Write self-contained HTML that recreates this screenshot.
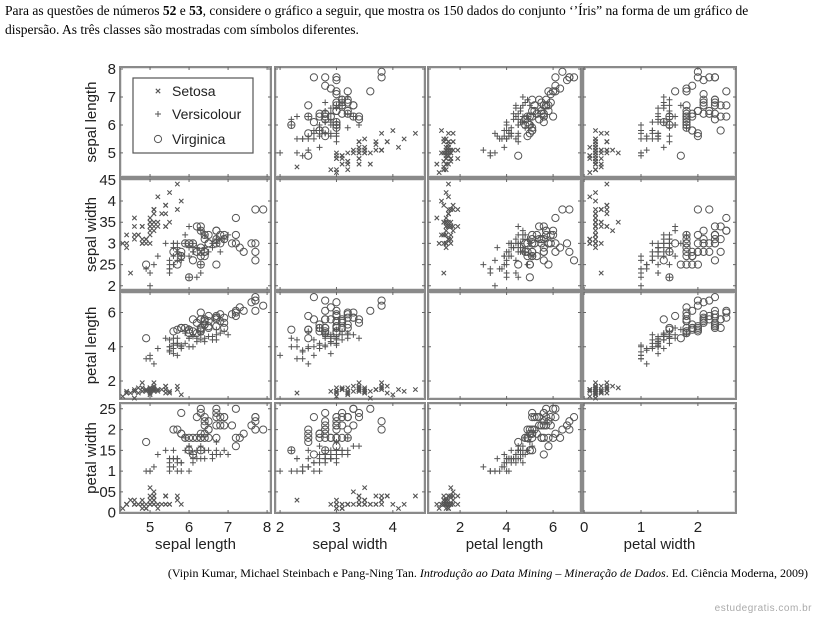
<!DOCTYPE html>
<html><head><meta charset="utf-8">
<style>
body{margin:0;background:#fff;width:816px;height:621px;overflow:hidden;position:relative;font-family:"Liberation Serif",serif}
.hdr{position:absolute;left:5px;top:1px;font-size:13.5px;line-height:19px;color:#000;width:800px}
.src{position:absolute;right:8px;top:566px;font-size:12px;color:#000}
.wm{position:absolute;right:4px;top:603px;font-size:10px;color:#aaa;font-family:"Liberation Sans",sans-serif;letter-spacing:0.5px}
svg{position:absolute;left:0;top:0}
</style></head><body>
<div class="hdr">Para as questões de números <b>52</b> e <b>53</b>, considere o gráfico a seguir, que mostra os 150 dados do conjunto ‘’Íris” na forma de um gráfico de dispersão. As três classes são mostradas com símbolos diferentes.</div>
<div class="src">(Vipin Kumar, Michael Steinbach e Pang-Ning Tan. <i>Introdução ao Data Mining – Mineração de Dados</i>. Ed. Ciência Moderna, 2009)</div>
<div class="wm">estudegratis.com.br</div>
<svg id="chart" width="816" height="621"></svg>
<script>
const species=[].concat(Array(50).fill(0),Array(50).fill(1),Array(50).fill(2));
const sepalLength=[5.1,4.9,4.7,4.6,5.0,5.4,4.6,5.0,4.4,4.9,5.4,4.8,4.8,4.3,5.8,5.7,5.4,5.1,5.7,5.1,5.4,5.1,4.6,5.1,4.8,5.0,5.0,5.2,5.2,4.7,4.8,5.4,5.2,5.5,4.9,5.0,5.5,4.9,4.4,5.1,5.0,4.5,4.4,5.0,5.1,4.8,5.1,4.6,5.3,5.0,
7.0,6.4,6.9,5.5,6.5,5.7,6.3,4.9,6.6,5.2,5.0,5.9,6.0,6.1,5.6,6.7,5.6,5.8,6.2,5.6,5.9,6.1,6.3,6.1,6.4,6.6,6.8,6.7,6.0,5.7,5.5,5.5,5.8,6.0,5.4,6.0,6.7,6.3,5.6,5.5,5.5,6.1,5.8,5.0,5.6,5.7,5.7,6.2,5.1,5.7,
6.3,5.8,7.1,6.3,6.5,7.6,4.9,7.3,6.7,7.2,6.5,6.4,6.8,5.7,5.8,6.4,6.5,7.7,7.7,6.0,6.9,5.6,7.7,6.3,6.7,7.2,6.2,6.1,6.4,7.2,7.4,7.9,6.4,6.3,6.1,7.7,6.3,6.4,6.0,6.9,6.7,6.9,5.8,6.8,6.7,6.7,6.3,6.5,6.2,5.9];
const sepalWidth=[3.5,3.0,3.2,3.1,3.6,3.9,3.4,3.4,2.9,3.1,3.7,3.4,3.0,3.0,4.0,4.4,3.9,3.5,3.8,3.8,3.4,3.7,3.6,3.3,3.4,3.0,3.4,3.5,3.4,3.2,3.1,3.4,4.1,4.2,3.1,3.2,3.5,3.1,3.0,3.4,3.5,2.3,3.2,3.5,3.8,3.0,3.8,3.2,3.7,3.3,
3.2,3.2,3.1,2.3,2.8,2.8,3.3,2.4,2.9,2.7,2.0,3.0,2.2,2.9,2.9,3.1,3.0,2.7,2.2,2.5,3.2,2.8,2.5,2.8,2.9,3.0,2.8,3.0,2.9,2.6,2.4,2.4,2.7,2.7,3.0,3.4,3.1,2.3,3.0,2.5,2.6,3.0,2.6,2.3,2.7,3.0,2.9,2.9,2.5,2.8,
3.3,2.7,3.0,2.9,3.0,3.0,2.5,2.9,2.5,3.6,3.2,2.7,3.0,2.5,2.8,3.2,3.0,3.8,2.6,2.2,3.2,2.8,2.8,2.7,3.3,3.2,2.8,3.0,2.8,3.0,2.8,3.8,2.8,2.8,2.6,3.0,3.4,3.1,3.0,3.1,3.1,3.1,2.7,3.2,3.3,3.0,2.5,3.0,3.4,3.0];
const petalLength=[1.4,1.4,1.3,1.5,1.4,1.7,1.4,1.5,1.4,1.5,1.5,1.6,1.4,1.1,1.2,1.5,1.3,1.4,1.7,1.5,1.7,1.5,1.0,1.7,1.9,1.6,1.6,1.5,1.4,1.6,1.6,1.5,1.5,1.4,1.5,1.2,1.3,1.5,1.3,1.5,1.3,1.3,1.3,1.6,1.9,1.4,1.6,1.4,1.5,1.4,
4.7,4.5,4.9,4.0,4.6,4.5,4.7,3.3,4.6,3.9,3.5,4.2,4.0,4.7,3.6,4.4,4.5,4.1,4.5,3.9,4.8,4.0,4.9,4.7,4.3,4.4,4.8,5.0,4.5,3.5,3.8,3.7,3.9,5.1,4.5,4.5,4.7,4.4,4.1,4.0,4.4,4.6,4.0,3.3,4.2,4.2,4.2,4.3,3.0,4.1,
6.0,5.1,5.9,5.6,5.8,6.6,4.5,6.3,5.8,6.1,5.1,5.3,5.5,5.0,5.1,5.3,5.5,6.7,6.9,5.0,5.7,4.9,6.7,4.9,5.7,6.0,4.8,4.9,5.6,5.8,6.1,6.4,5.6,5.1,5.6,6.1,5.6,5.5,4.8,5.4,5.6,5.1,5.1,5.9,5.7,5.2,5.0,5.2,5.4,5.1];
const petalWidth=[0.2,0.2,0.2,0.2,0.2,0.4,0.3,0.2,0.2,0.1,0.2,0.2,0.1,0.1,0.2,0.4,0.4,0.3,0.3,0.3,0.2,0.4,0.2,0.5,0.2,0.2,0.4,0.2,0.2,0.2,0.2,0.4,0.1,0.2,0.1,0.2,0.2,0.1,0.2,0.2,0.3,0.3,0.2,0.6,0.4,0.3,0.2,0.2,0.2,0.2,
1.4,1.5,1.5,1.3,1.5,1.3,1.6,1.0,1.3,1.4,1.0,1.5,1.0,1.4,1.3,1.4,1.5,1.0,1.5,1.1,1.8,1.3,1.5,1.2,1.3,1.4,1.4,1.7,1.5,1.0,1.1,1.0,1.2,1.6,1.5,1.6,1.5,1.3,1.3,1.3,1.2,1.4,1.2,1.0,1.3,1.2,1.3,1.3,1.1,1.3,
2.5,1.9,2.1,1.8,2.2,2.1,1.7,1.8,1.8,2.5,2.0,1.9,2.1,2.0,2.4,2.3,1.8,2.2,2.3,1.5,2.3,2.0,2.0,1.8,2.1,1.8,1.8,1.8,2.1,1.6,1.9,2.0,2.2,1.5,1.4,2.3,2.4,1.8,1.8,2.1,2.4,2.3,1.9,2.3,2.5,2.3,1.9,2.0,2.3,1.8];
const featureNames=["sepal length","sepal width","petal length","petal width"];
const xTicks=[[5,6,7,8],[2,3,4],[2,4,6],[0,1,2]];
const xTickLabels=[["5","6","7","8"],["2","3","4"],["2","4","6"],["0","1","2"]];
const yTicks=[[5,6,7,8],[2,2.5,3,3.5,4,4.5],[2,4,6],[0,0.5,1,1.5,2,2.5]];
const yTickLabels=[["5","6","7","8"],["2","25","3","35","4","45"],["2","4","6"],["0","05","1","15","2","25"]];
const classNames=["Setosa","Versicolour","Virginica"];

const data=[sepalLength,sepalWidth,petalLength,petalWidth];
const xDom=[[4.23,8.1],[1.91,4.57],[0.62,7.2],[-0.02,2.67]];
const yDom=[[4.14,8.07],[1.9,4.52],[0.95,7.2],[-0.01,2.64]];
const colPx=[[120,271],[275,425],[428,581],[583,736]];
const rowPx=[[67,177],[179,290],[292,399],[403,513]];
const NS="http://www.w3.org/2000/svg";
const svg=document.getElementById('chart');
function mk(t,a,p){const e=document.createElementNS(NS,t);for(const k in a)e.setAttribute(k,a[k]);(p||svg).appendChild(e);return e;}
function xs(c,v){const d=xDom[c],p=colPx[c];return p[0]+(v-d[0])/(d[1]-d[0])*(p[1]-p[0]);}
function ys(r,v){const d=yDom[r],p=rowPx[r];return p[1]-(v-d[0])/(d[1]-d[0])*(p[1]-p[0]);}
const col="#555";
function marker(g,k,x,y){
  if(k===0){mk('path',{d:`M${x-2.2},${y-2.2}L${x+2.2},${y+2.2}M${x-2.2},${y+2.2}L${x+2.2},${y-2.2}`,stroke:col,'stroke-width':1.1,fill:'none'},g);}
  else if(k===1){mk('path',{d:`M${x-3},${y}L${x+3},${y}M${x},${y-3}L${x},${y+3}`,stroke:col,'stroke-width':1,fill:'none'},g);}
  else mk('circle',{cx:x,cy:y,r:3.6,stroke:col,'stroke-width':1,fill:'none'},g);
}
for(let r=0;r<4;r++)for(let c=0;c<4;c++){
  const g=mk('g',{});
  
  
  const x0=colPx[c][0],x1=colPx[c][1],y0=rowPx[r][0],y1=rowPx[r][1];
  mk('rect',{x:x0,y:y0,width:x1-x0,height:y1-y0,fill:'#fff',stroke:'#8a8a8a','stroke-width':2},g);
  mk('rect',{x:x0+1.5,y:y0+1.5,width:x1-x0-3,height:y1-y0-3,fill:'none',stroke:'#d0d0d0','stroke-width':0.6},g);
  let tp='';
  xTicks[c].forEach(t=>{const x=xs(c,t);if(x>x0+1&&x<x1-1)tp+=`M${x},${y1}v-3M${x},${y0}v3`;});
  yTicks[r].forEach(t=>{const y=ys(r,t);if(y>y0+1&&y<y1-1)tp+=`M${x0},${y}h3M${x1},${y}h-3`;});
  mk('path',{d:tp,stroke:'#666','stroke-width':1},g);
  if(r!==c){
    for(let i=0;i<150;i++){marker(g,species[i],xs(c,data[c][i]),ys(r,data[r][i]));}
  }
}
const lg=mk('g',{});


mk('rect',{x:133,y:78,width:120,height:75,fill:'none',stroke:'#555','stroke-width':1.2},lg);
const legY=[91,114,139];
classNames.forEach((n,k)=>{
  const e=mk('g',{},lg);
  
  
  marker(e,k,158,legY[k]);
  const t=mk('text',{x:172,y:legY[k]+5,'font-family':'Liberation Sans, sans-serif','font-size':14,fill:'#222'},e);
  t.textContent=n;
});
for(let r=0;r<4;r++){
  yTicks[r].forEach((t,i)=>{const tx=mk('text',{x:116,y:ys(r,t)+5,'text-anchor':'end','font-family':'Liberation Sans, sans-serif','font-size':15,fill:'#222'});
    
    
    tx.textContent=yTickLabels[r][i];});
  const cy=(rowPx[r][0]+rowPx[r][1])/2;
  const yt=mk('text',{x:0,y:0,transform:`translate(96,${cy}) rotate(-90)`,'text-anchor':'middle','font-family':'Liberation Sans, sans-serif','font-size':15,fill:'#222'});
  
  
  yt.textContent=featureNames[r];
}
for(let c=0;c<4;c++){
  xTicks[c].forEach((t,i)=>{const tx=mk('text',{x:xs(c,t),y:532,'text-anchor':'middle','font-family':'Liberation Sans, sans-serif','font-size':15,fill:'#222'});
    
    
    tx.textContent=xTickLabels[c][i];});
  const xt=mk('text',{x:(colPx[c][0]+colPx[c][1])/2,y:549,'text-anchor':'middle','font-family':'Liberation Sans, sans-serif','font-size':15,fill:'#222'});
  
  
  xt.textContent=featureNames[c];
}
</script>
</body></html>
